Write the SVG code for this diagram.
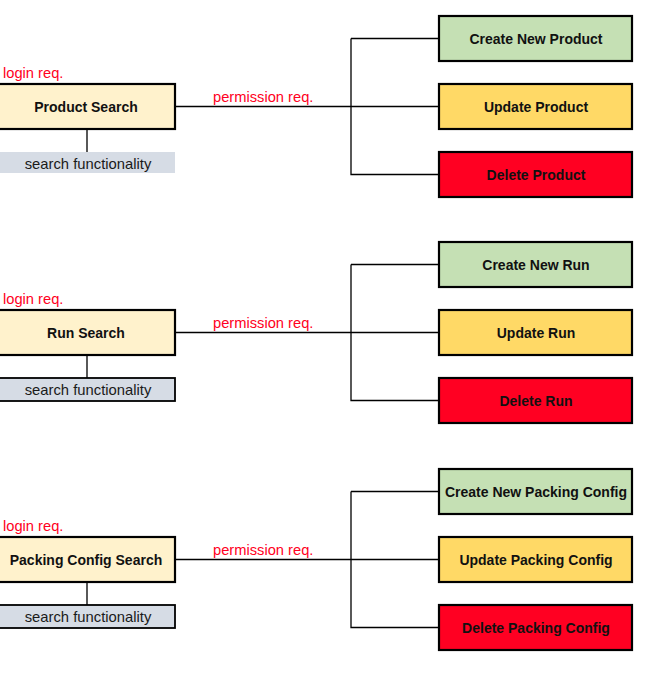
<svg xmlns="http://www.w3.org/2000/svg" width="662" height="680" viewBox="0 0 662 680">
<style>
.box{stroke:#000;stroke-width:2.2}
.search{fill:#FFF2CC}
.func{fill:#D6DCE5}
.funcb{fill:#D6DCE5;stroke:#000;stroke-width:1.8}
.create{fill:#C5E0B4}
.update{fill:#FFD966}
.delete{fill:#FF0022}
.lbl{font-family:"Liberation Sans",Arial,sans-serif;font-weight:bold;font-size:14px;fill:#111;text-anchor:middle}
.sf{font-family:"Liberation Sans",Arial,sans-serif;font-size:14.8px;fill:#1a1a1a;text-anchor:middle}
.red{font-family:"Liberation Sans",Arial,sans-serif;font-size:14.7px;fill:#FF0022}
.conn{fill:none;stroke:#000;stroke-width:1.3}
</style>
<g id="connectors">
<path class="conn" d="M87 129V152M175 106.5H439M351 38.5V174.5H439M351 38.5H439"/>
<path class="conn" d="M87 355V378M175 332.5H439M351 264.5V400.5H439M351 264.5H439"/>
<path class="conn" d="M87 582V605M175 559.5H439M351 491.5V627.5H439M351 491.5H439"/>
</g>
<g id="labels">
<text class="red" x="3" y="77.5">login req.</text>
<text class="red" x="213" y="102">permission req.</text>
<text class="red" x="3" y="303.5">login req.</text>
<text class="red" x="213" y="328">permission req.</text>
<text class="red" x="3" y="530.5">login req.</text>
<text class="red" x="213" y="555">permission req.</text>
</g>
<g id="product-search"><rect class="box search" x="-5" y="84" width="180" height="45"/><text class="lbl" x="86" y="111.5">Product Search</text></g>
<g id="product-func"><rect class="func" x="0" y="152" width="175" height="21"/><text class="sf" x="88" y="168.5">search functionality</text></g>
<g id="create-product"><rect class="box create" x="439" y="16" width="193" height="45"/><text class="lbl" x="536" y="43.5">Create New Product</text></g>
<g id="update-product"><rect class="box update" x="439" y="84" width="193" height="45"/><text class="lbl" x="536" y="111.5">Update Product</text></g>
<g id="delete-product"><rect class="box delete" x="439" y="152" width="193" height="45"/><text class="lbl" x="536" y="179.5">Delete Product</text></g>
<g id="run-search"><rect class="box search" x="-5" y="310" width="180" height="45"/><text class="lbl" x="86" y="337.5">Run Search</text></g>
<g id="run-func"><rect class="funcb" x="-5" y="378" width="180" height="23"/><text class="sf" x="88" y="395">search functionality</text></g>
<g id="create-run"><rect class="box create" x="439" y="242" width="193" height="45"/><text class="lbl" x="536" y="269.5">Create New Run</text></g>
<g id="update-run"><rect class="box update" x="439" y="310" width="193" height="45"/><text class="lbl" x="536" y="337.5">Update Run</text></g>
<g id="delete-run"><rect class="box delete" x="439" y="378" width="193" height="45"/><text class="lbl" x="536" y="405.5">Delete Run</text></g>
<g id="packing-search"><rect class="box search" x="-5" y="537" width="180" height="45"/><text class="lbl" x="86" y="564.5">Packing Config Search</text></g>
<g id="packing-func"><rect class="funcb" x="-5" y="605" width="180" height="23"/><text class="sf" x="88" y="622">search functionality</text></g>
<g id="create-packing"><rect class="box create" x="439" y="469" width="193" height="45"/><text class="lbl" x="536" y="496.5">Create New Packing Config</text></g>
<g id="update-packing"><rect class="box update" x="439" y="537" width="193" height="45"/><text class="lbl" x="536" y="564.5">Update Packing Config</text></g>
<g id="delete-packing"><rect class="box delete" x="439" y="605" width="193" height="45"/><text class="lbl" x="536" y="632.5">Delete Packing Config</text></g>
</svg>
